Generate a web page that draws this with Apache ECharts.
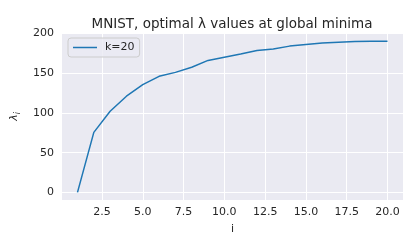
<!DOCTYPE html>
<html><head><meta charset="utf-8">
<script src="https://cdn.jsdelivr.net/npm/echarts@6/dist/echarts.min.js"></script>
<style>html,body{margin:0;padding:0;background:#fff}#c{width:415px;height:249px}</style>
</head><body><div id="c"></div>
<script>
const xValues = [1,2,3,4,5,6,7,8,9,10,11,12,13,14,15,16,17,18,19,20];
const lambdaK20 = [0,75.5,102,121,135.5,146,151,157.5,166,170,174,178.5,180.5,184,186,188,189,189.8,190,190.2];
const xTicks = [2.5,5,7.5,10,12.5,15,17.5,20];
const yTicks = [0,50,100,150,200];
const seriesName = 'k=20';

const chart = echarts.init(document.getElementById('c'), null, {renderer:'canvas'});
const font = 'DejaVu Sans';
chart.setOption({
  animation:false,
  backgroundColor:'#fff',
  title:{text:'MNIST, optimal \u03BB values at global minima', left:227, textAlign:'center', top:12,
    textStyle:{fontFamily:font, fontSize:13.5, fontWeight:'normal', color:'#262626'}},
  grid:{left:62, right:12, top:33, bottom:49, show:true, backgroundColor:'#EAEAF2', borderWidth:0},
  legend:{left:68, top:38, orient:'vertical', padding:[4,5,4,5], backgroundColor:'rgba(234,234,242,0.8)',
    borderColor:'#cccccc', borderWidth:1, borderRadius:3, itemWidth:24, itemHeight:12, itemGap:4,
    icon:'path://M0,5 L24,5 L24,6.5 L0,6.5 Z',
    textStyle:{fontFamily:font, fontSize:11, color:'#262626', padding:[0,0,0,3]}, data:[seriesName]},
  xAxis:{type:'value', min:0.05, max:20.95,
    name:'i', nameLocation:'middle', nameGap:24, nameTextStyle:{fontFamily:font, fontSize:11, color:'#262626'},
    axisLine:{show:false}, axisTick:{show:false, customValues:xTicks},
    axisLabel:{customValues:xTicks, fontFamily:font, fontSize:11, color:'#262626', margin:7,
      formatter:v=>v.toFixed(1)},
    splitLine:{show:true, lineStyle:{color:'#ffffff', width:1}}},
  yAxis:{type:'value', min:-9.55, max:200.5,
    name:'{a|\u03BB}{b|i}', nameLocation:'middle', nameGap:35, nameRotate:90,
    nameTextStyle:{fontFamily:font, fontSize:11, color:'#262626', rich:{a:{fontFamily:font,fontStyle:'italic',fontSize:11,color:'#262626'}, b:{fontFamily:font,fontStyle:'italic',fontSize:8,color:'#262626', padding:[7,0,0,0]}}},
    axisLine:{show:false}, axisTick:{show:false, customValues:yTicks},
    axisLabel:{customValues:yTicks, fontFamily:font, fontSize:11, color:'#262626', margin:8},
    splitLine:{show:true, lineStyle:{color:'#ffffff', width:1}}},
  series:[{name:seriesName, type:'line', data:xValues.map((x,i)=>[x,lambdaK20[i]]),
    symbol:'none', lineStyle:{color:'#1f77b4', width:1.5}, itemStyle:{color:'#1f77b4'}}]
});
</script></body></html>
